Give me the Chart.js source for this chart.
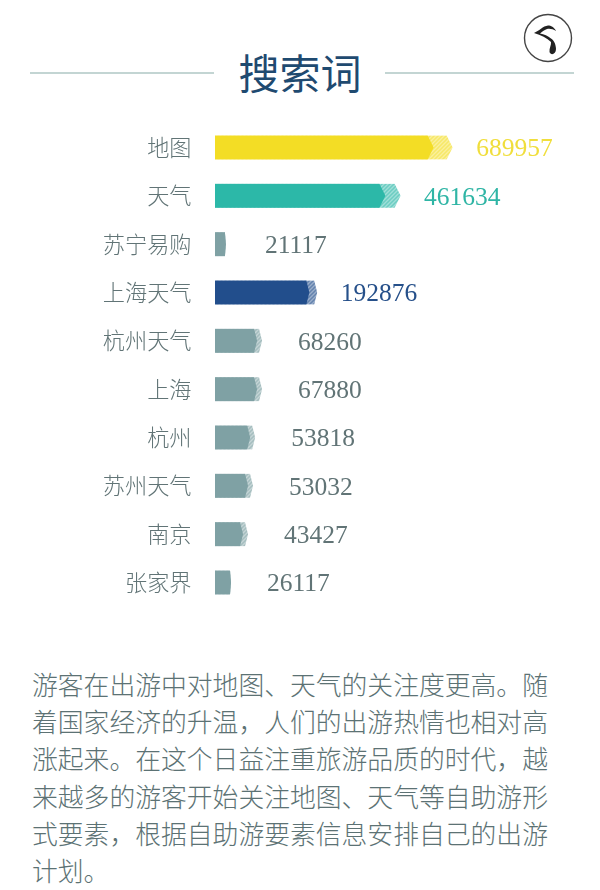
<!DOCTYPE html>
<html lang="zh">
<head>
<meta charset="utf-8">
<title>搜索词</title>
<script src="https://cdn.jsdelivr.net/npm/chart.js@4"></script>
<style>
html,body{margin:0;padding:0;background:#fff;width:600px;height:890px;overflow:hidden}
#wrap{position:relative;width:600px;height:890px}
#title{position:absolute;left:0;width:600px;top:44px;text-align:center;font:400 41px/54px "Noto Sans CJK SC",sans-serif;color:#1f4a70}
.rule{position:absolute;top:72px;height:1.5px;background:#c3d5d3}
#logo{position:absolute;left:518px;top:9px}
#chartBox{position:absolute;left:0;top:110px;width:600px;height:510px}
#note{position:absolute;left:32px;top:665px;width:540px;font:300 25.8px/37.2px "Noto Sans CJK SC",sans-serif;color:#5c7274;white-space:pre}
</style>
</head>
<body>
<div id="wrap">
  <div class="rule" style="left:30px;width:184px"></div>
  <div class="rule" style="left:385px;width:189px"></div>
  <div id="title">搜索词</div>
  <svg id="logo" width="60" height="60" viewBox="0 0 60 60">
    <circle cx="30" cy="29" r="23.5" fill="#fff" stroke="#444" stroke-width="1.4"/>
    <path d="M16 24 C21 22 25 17 30 16.5 C33 16.5 36 18 38 22 C35 20 32 19.5 29 20 C26 21 24 23 22 24.5 C26 25 30 27 33 29.5 C36 31 38 36 38 40 C38 45 33 47 31.5 43 C31 39 33.5 36 33 33 C29 29 23 26 16 24 Z" fill="#222"/>
  </svg>
  <div id="chartBox"><canvas id="c" width="600" height="510"></canvas></div>
  <div id="note">游客在出游中对地图、天气的关注度更高。随
着国家经济的升温，人们的出游热情也相对高
涨起来。在这个日益注重旅游品质的时代，越
来越多的游客开始关注地图、天气等自助游形
式要素，根据自助游要素信息安排自己的出游
计划。</div>
</div>
<script>
const categories = ["地图","天气","苏宁易购","上海天气","杭州天气","上海","杭州","苏州天气","南京","张家界"];
const searchCounts = [689957,461634,21117,192876,68260,67880,53818,53032,43427,26117];
// Bar lengths in the reference are not proportional to the counts: read as % of the longest bar.
const solidLengths = [92,71.7,4.6,39.7,17.7,17.7,14.8,13.9,11.8,6.75];
const tipLengths = [100,78.1,4.6,43,19.8,19.8,16.9,16,13.9,6.75];

const YELLOW="#f3dd25", TEAL="#2cb8a8", NAVY="#224e8c", GREY="#7fa1a4";
const barColors=[YELLOW,TEAL,GREY,NAVY,GREY,GREY,GREY,GREY,GREY,GREY];
const textColors=["#f0de3c","#2fb5a5","#617476","#26508a","#617476","#617476","#617476","#617476","#617476","#617476"];

function hatch(color){
  const p=document.createElement("canvas");p.width=p.height=4;
  const x=p.getContext("2d");
  x.fillStyle="#fff";x.fillRect(0,0,4,4);
  x.fillStyle=color;x.globalAlpha=.45;x.fillRect(0,0,4,4);
  x.strokeStyle=color;x.globalAlpha=.45;x.lineWidth=1.5;
  x.beginPath();x.moveTo(-1,1);x.lineTo(1,-1);x.moveTo(-1,5);x.lineTo(5,-1);x.moveTo(3,5);x.lineTo(5,3);x.stroke();
  return x.createPattern(p,"repeat");
}
const ctx=document.getElementById("c").getContext("2d");

const chevronClip={
  id:"chevronClip",
  beforeDatasetDraw(chart,args){
    const c=chart.ctx,els=chart.getDatasetMeta(args.index).data;
    c.save();c.beginPath();
    els.forEach((el,i)=>{
      const len=el.x-el.base;
      const d=len<20?1:(i<2?6:3);
      const t=el.y-12,b=el.y+12;
      c.moveTo(el.base,t);c.lineTo(el.x-d,t);c.lineTo(el.x,el.y);c.lineTo(el.x-d,b);c.lineTo(el.base,b);c.closePath();
    });
    c.clip();
  },
  afterDatasetDraw(chart){chart.ctx.restore();}
};
const valueLabels={
  id:"valueLabels",
  afterDraw(chart){
    const c=chart.ctx,els=chart.getDatasetMeta(0).data;
    c.save();
    c.font='25.5px "Liberation Serif",serif';c.textBaseline="middle";c.textAlign="left";
    els.forEach((el,i)=>{
      const gap=(barColors[i]===GREY)?(el.x-el.base<15?39:36):23.5;
      c.fillStyle=textColors[i];
      c.fillText(String(searchCounts[i]),el.x+gap,el.y+2);
    });
    c.restore();
  }
};

new Chart(ctx,{
  type:"bar",
  data:{labels:categories,datasets:[
    {label:"末端",data:tipLengths,backgroundColor:barColors.map(hatch),grouped:false,order:2,barThickness:24,borderWidth:0},
    {label:"搜索词",data:solidLengths,backgroundColor:barColors,grouped:false,order:1,barThickness:24,borderWidth:0}
  ]},
  options:{
    indexAxis:"y",responsive:false,animation:false,devicePixelRatio:1,
    layout:{padding:0},
    plugins:{legend:{display:false},tooltip:{enabled:false},title:{display:false}},
    scales:{
      x:{display:false,min:0,max:162},
      y:{
        grid:{display:false,drawTicks:true,tickLength:23.5},border:{display:false},
        afterFit(s){s.width=215;},
        ticks:{padding:0,color:"#617476",autoSkip:false,font:{family:'"Noto Sans CJK SC",sans-serif',size:22.2,weight:"300"}}
      }
    }
  },
  plugins:[chevronClip,valueLabels]
});
</script>
</body>
</html>
